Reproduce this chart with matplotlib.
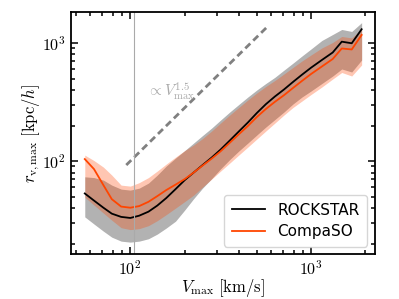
import numpy as np
import matplotlib
matplotlib.use("Agg")
import matplotlib.pyplot as plt
from matplotlib.ticker import FuncFormatter

plt.rcParams["mathtext.fontset"] = "cm"
plt.rcParams["font.family"] = "DejaVu Sans"

# Vmax bins [km/s]
vmax = [56, 63, 71, 79, 89, 100, 112, 126, 141, 158, 178, 200, 224, 251, 282,
        316, 355, 398, 447, 501, 562, 631, 708, 794, 891, 1000, 1148, 1318,
        1479, 1679, 1905]

# ROCKSTAR: median and band
rock_med = [53.2, 46.3, 40.3, 35.9, 33.7, 33.0, 34.5, 37.3, 42.0, 48.6, 57.9,
            69.0, 79.9, 92.5, 107.1, 125.2, 149.2, 177.8, 212.0, 255.1, 302.9,
            352.2, 403.5, 467.2, 538.7, 617.6, 717.6, 830.8, 1025.6, 994, 1306.6]
rock_lo = [33.7, 29.3, 25.5, 22.7, 21.0, 20.6, 21.0, 22.0, 24.1, 27.1, 31.0,
           38.5, 48.0, 59.0, 71.0, 86.0, 103.0, 121.5, 142.1, 166.1, 194.1,
           224.7, 260.2, 304.1, 348.6, 391.9, 453.7, 525.2, 602.2, 567.8, 717.6]
rock_hi = [73.6, 72.5, 69.0, 62.6, 57.9, 56.8, 59.0, 65.1, 76.1, 90.7, 106.0,
           122.7, 142.1, 164.5, 190.4, 222.6, 260.2, 301.1, 348.6, 399.6, 453.7,
           512.0, 588.3, 674.4, 775.9, 889.6, 1050, 1180, 1301, 1252, 1486]

# CompaSO: median and band
comp_med = [104.0, 85.5, 62.6, 47.6, 41.2, 40.3, 41.6, 45.2, 50.5, 56.8, 63.2,
            70.4, 79.9, 91.6, 105.0, 121.1, 142.9, 168.4, 198.0, 236.0, 275.9,
            317.5, 361.1, 415.6, 477.3, 546.1, 632.1, 731.9, 898.4, 881.0, 1169]
comp_lo = [49.5, 42.4, 36.3, 31.6, 27.3, 26.3, 26.8, 28.4, 31.3, 35.2, 40.0,
           45.4, 51.5, 60.2, 70.4, 82.3, 96.2, 112.4, 131.4, 153.6, 179.6,
           209.9, 245.3, 284.1, 322.5, 366.1, 423.8, 495.3, 562.3, 525.2, 651.2]
comp_hi = [112.4, 101.0, 88.9, 76.1, 62.6, 61.4, 65.7, 72.5, 82.3, 94.3, 108.1,
           122.7, 136.6, 155.1, 179.6, 209.9, 245.3, 284.1, 328.8, 377.0, 428.0,
           481.1, 546.1, 620.1, 703.9, 791.3, 907.2, 1010, 1135, 1103, 1314]

# power-law guide
guide_v = np.array([95.0, 570.0])
guide_norm = 0.1
guide_slope = 1.5
v_mark = 105

fig = plt.figure(figsize=(3.99, 2.99), dpi=100)
ax = fig.add_axes([0.178, 0.150, 0.762, 0.810])

ax.fill_between(vmax, rock_lo, rock_hi, color="black", alpha=0.3, lw=0)
ax.fill_between(vmax, comp_lo, comp_hi, color="orangered", alpha=0.3, lw=0)
ax.plot(vmax, rock_med, color="black", lw=1.3, label="ROCKSTAR")
ax.plot(vmax, comp_med, color="orangered", lw=1.3, label="CompaSO")

ax.plot(guide_v, guide_norm * guide_v ** guide_slope, color="gray", lw=2,
        ls=(0, (2.5, 1.5)))
ax.text(124, 385, r"$\propto V_{\rm max}^{1.5}$", color="#aaaaaa", fontsize=11,
        ha="left", va="center")
ax.axvline(v_mark, color="#aaaaaa", lw=0.8)

ax.set_xscale("log")
ax.set_yscale("log")
ax.set_xlim(47, 2260)
ax.set_ylim(16.3, 1830)

fmt = FuncFormatter(lambda v, _: r"$10^{%d}$" % round(np.log10(v)))
ax.xaxis.set_major_formatter(fmt)
ax.yaxis.set_major_formatter(fmt)
ax.tick_params(which="both", direction="in", top=True, right=True,
               labelsize=11.5, width=1.1)
ax.tick_params(which="major", length=5)
ax.tick_params(which="minor", length=2.8)
for s in ax.spines.values():
    s.set_linewidth(1.3)

ax.set_xlabel(r"$V_{\rm max}\ [{\rm km/s}]$", fontsize=12, labelpad=0)
ax.set_ylabel(r"$r_{\rm v,max}\ [{\rm kpc}/h]$", fontsize=12, labelpad=0)

ax.legend(loc="lower right", fontsize=11, handlelength=2.2, borderpad=0.5,
          labelspacing=0.4)

fig.savefig("out.png", dpi=100)
